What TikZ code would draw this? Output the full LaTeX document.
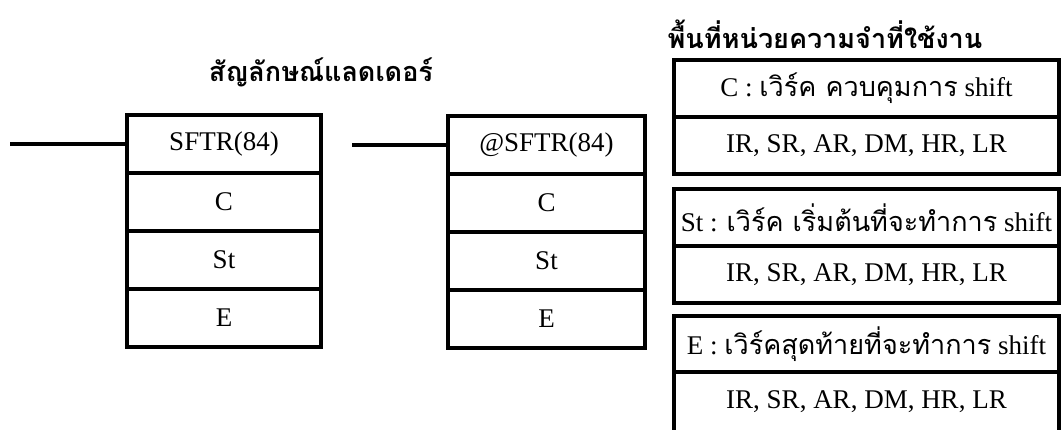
\documentclass[tikz,border=0pt]{standalone}
\usepackage{fontspec}
\setmainfont{Liberation Serif}
\newfontfamily\thaifont[Script=Thai]{Loma}
\begin{document}
\begin{tikzpicture}[x=1pt,y=-1pt,
  cellL/.style={draw,line width=3.2pt,minimum width=194pt,minimum height=58pt,
    inner sep=0pt,font=\fontsize{27}{30}\selectfont},
  cellR/.style={draw,line width=3.2pt,minimum width=197pt,minimum height=58pt,
    inner sep=0pt,font=\fontsize{27}{30}\selectfont},
  area/.style={draw,line width=3.2pt,minimum width=385pt,inner sep=0pt,
    font=\fontsize{27}{30}\selectfont},
  heading/.style={inner sep=0pt,font=\thaifont\bfseries\fontsize{27}{30}\selectfont},
  wire/.style={line width=3.2pt}]
\useasboundingbox (0,0) rectangle (1061,429);

% headings
\node[heading] (ladtitle) at (321,72) {สัญลักษณ์แลดเดอร์};
\node[heading] (areatitle) at (825,34) {พื้นที่หน่วยความจำที่ใช้งาน};

% SFTR ladder symbol
\node[cellL] (sftr) at (224,144) {SFTR(84)};
\node[cellL] (sftrC) at (224,202) {C};
\node[cellL] (sftrSt) at (224,260) {St};
\node[cellL] (sftrE) at (224,318) {E};
\coordinate (lead1) at (10,144);
\draw[wire] (lead1) -- (sftr.west);

% @SFTR ladder symbol
\node[cellR] (asftr) at (546.5,145) {@SFTR(84)};
\node[cellR] (asftrC) at (546.5,203) {C};
\node[cellR] (asftrSt) at (546.5,261) {St};
\node[cellR] (asftrE) at (546.5,319) {E};
\coordinate (lead2) at (352,145);
\draw[wire] (lead2) -- (asftr.west);

% operand data areas
\node[area,minimum height=57pt] (opC) at (866.5,88.5)
  {C : {\thaifont เวิร์ค ควบคุมการ} shift};
\node[area,minimum height=57pt] (opCa) at (866.5,145.5) {IR, SR, AR, DM, HR, LR};
\node[area,minimum height=57pt] (opSt) at (866.5,217.5)
  {St : {\thaifont เวิร์ค เริ่มต้นที่จะทำการ} shift};
\node[area,minimum height=57pt] (opSta) at (866.5,274.5) {IR, SR, AR, DM, HR, LR};
\node[area,minimum height=56pt] (opE) at (866.5,344)
  {E : {\thaifont เวิร์คสุดท้ายที่จะทำการ} shift};
\node[area,minimum height=60pt] (opEa) at (866.5,402) {IR, SR, AR, DM, HR, LR};
\end{tikzpicture}
\end{document}
